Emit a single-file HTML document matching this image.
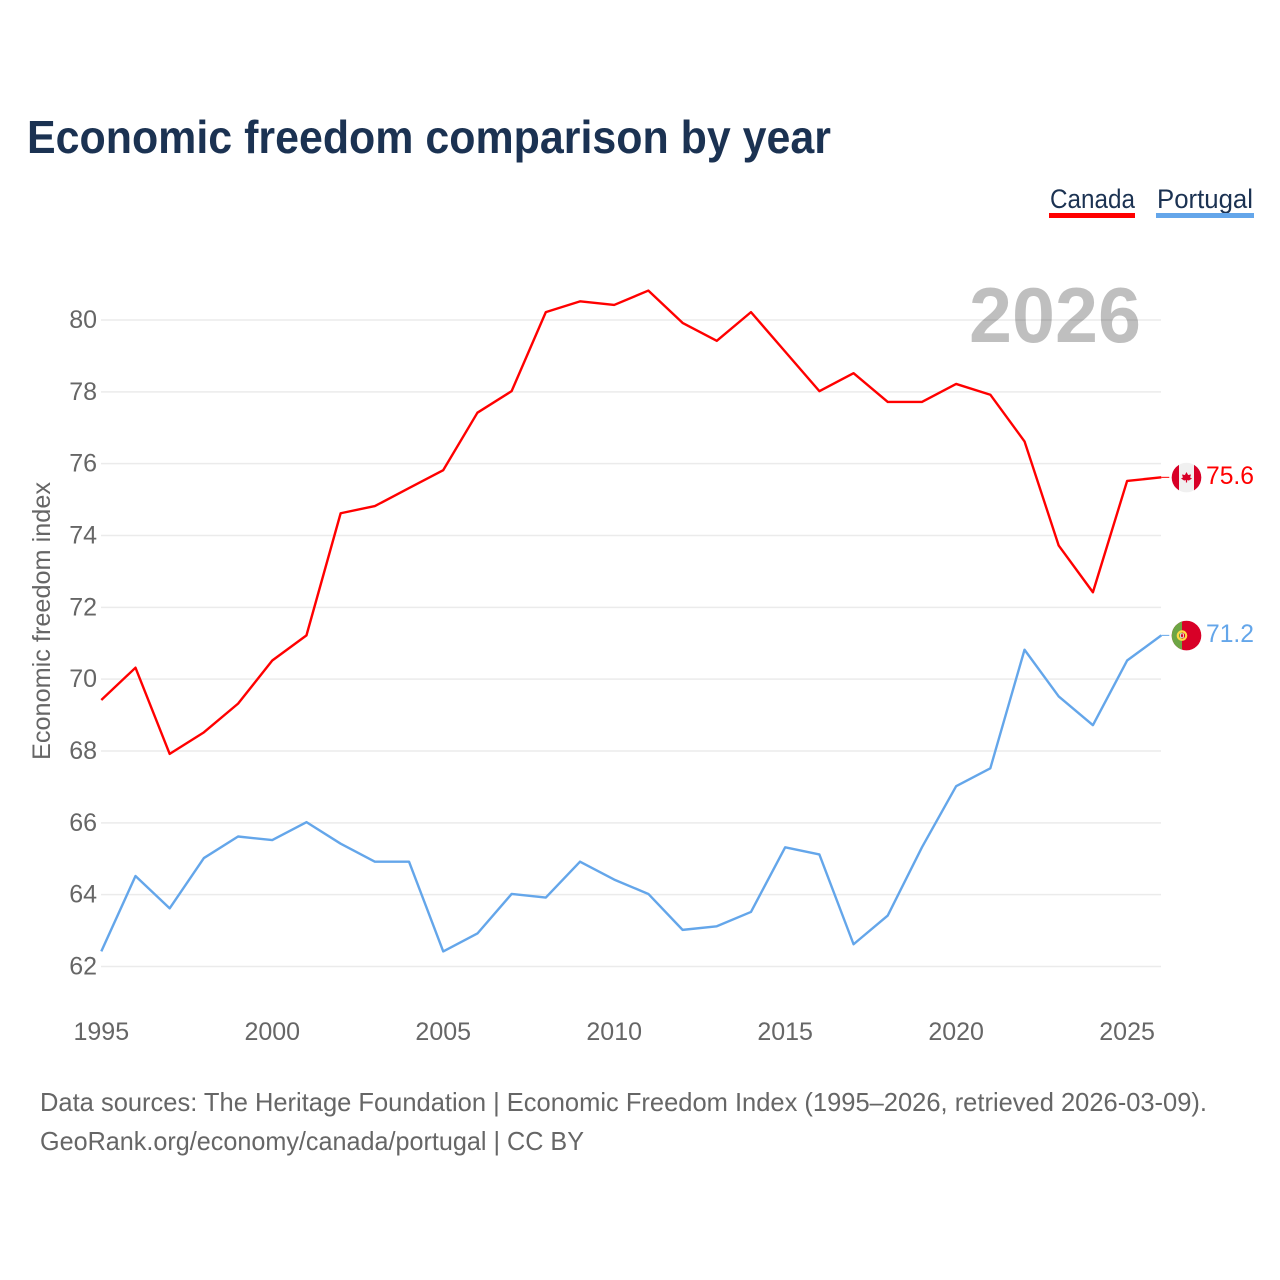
<!DOCTYPE html>
<html lang="en">
<head>
<meta charset="utf-8">
<title>Economic freedom comparison by year</title>
<style>
html,body{margin:0;padding:0;background:#fff;}
svg{display:block;font-family:"Liberation Sans",sans-serif;}
</style>
</head>
<body>
<svg id="chart" xmlns="http://www.w3.org/2000/svg" width="1280" height="1280" viewBox="0 0 1280 1280">
  <rect x="0" y="0" width="1280" height="1280" fill="#fff"/>
  <text x="27" y="153" font-size="46" font-weight="700" fill="#1b3252" textLength="804" lengthAdjust="spacingAndGlyphs">Economic freedom comparison by year</text>

  <g>
    <text x="1050" y="208" font-size="27" fill="#1b3252" textLength="85" lengthAdjust="spacingAndGlyphs">Canada</text>
    <rect x="1049" y="213" width="86" height="5" fill="#ff0000"/>
  </g>
  <g>
    <text x="1157" y="208" font-size="27" fill="#1b3252" textLength="96" lengthAdjust="spacingAndGlyphs">Portugal</text>
    <rect x="1156" y="213" width="98" height="5" fill="#64a6ea"/>
  </g>

  <g id="grid"></g>
  <g id="yticks"></g>
  <g id="xticks"></g>

  <text x="969" y="342" font-size="78" font-weight="700" fill="#000" fill-opacity="0.25" textLength="172" lengthAdjust="spacingAndGlyphs">2026</text>

  <text transform="translate(50 760) rotate(-90)" x="0" y="0" font-size="25" fill="#666" textLength="278" lengthAdjust="spacingAndGlyphs">Economic freedom index</text>

  <g id="series" transform="translate(-0.7 -0.7)"></g>

  <defs>
    <clipPath id="clip-ca"><circle cx="0" cy="0" r="14.8"/></clipPath>
    <clipPath id="clip-pt"><circle cx="0" cy="0" r="14.8"/></clipPath>
  </defs>

  <g id="flag-canada">
    <g clip-path="url(#clip-ca)">
      <rect x="-15" y="-15" width="30" height="30" fill="#f0f0f0"/>
      <rect x="-15" y="-15" width="7.5" height="30" fill="#d80027"/>
      <rect x="7.5" y="-15" width="7.5" height="30" fill="#d80027"/>
      <polygon points="0,-5.5 1.6,-2.5 4.5,-3 3.6,0 5.5,1 2.4,3 0.6,2.6 0.6,5 -0.6,5 -0.6,2.6 -2.4,3 -5.5,1 -3.6,0 -4.5,-3 -1.6,-2.5" fill="#d80027"/>
    </g>
  </g>
  <g id="flag-portugal">
    <g clip-path="url(#clip-pt)">
      <rect x="-15" y="-15" width="30" height="30" fill="#d80027"/>
      <rect x="-15" y="-15" width="10.5" height="30" fill="#6da544"/>
      <circle cx="-4.5" cy="0" r="4.2" fill="none" stroke="#ffda44" stroke-width="2.2"/>
      <rect x="-6" y="-1.7" width="3" height="3.4" fill="#d80027" stroke="#f0f0f0" stroke-width="0.8"/>
    </g>
  </g>

  <text id="value-canada" x="1206" y="483" font-size="25" fill="#ff0000" textLength="48" lengthAdjust="spacingAndGlyphs"></text>
  <text id="value-portugal" x="1206" y="641" font-size="25" fill="#64a6ea" textLength="48" lengthAdjust="spacingAndGlyphs"></text>

  <text x="40" y="1111" font-size="26" fill="#666" textLength="1167" lengthAdjust="spacingAndGlyphs">Data sources: The Heritage Foundation | Economic Freedom Index (1995–2026, retrieved 2026-03-09).</text>
  <text x="40" y="1150" font-size="26" fill="#666" textLength="544" lengthAdjust="spacingAndGlyphs">GeoRank.org/economy/canada/portugal | CC BY</text>
</svg>
<script>
const years = [1995,1996,1997,1998,1999,2000,2001,2002,2003,2004,2005,2006,2007,2008,2009,2010,2011,2012,2013,2014,2015,2016,2017,2018,2019,2020,2021,2022,2023,2024,2025,2026];
const canadaValues = [69.4,70.3,67.9,68.5,69.3,70.5,71.2,74.6,74.8,75.3,75.8,77.4,78.0,80.2,80.5,80.4,80.8,79.9,79.4,80.2,79.1,78.0,78.5,77.7,77.7,78.2,77.9,76.6,73.7,72.4,75.5,75.6];
const portugalValues = [62.4,64.5,63.6,65.0,65.6,65.5,66.0,65.4,64.9,64.9,62.4,62.9,64.0,63.9,64.9,64.4,64.0,63.0,63.1,63.5,65.3,65.1,62.6,63.4,65.3,67.0,67.5,70.8,69.5,68.7,70.5,71.2];
const yTickValues = [62,64,66,68,70,72,74,76,78,80];
const xTickValues = [1995,2000,2005,2010,2015,2020,2025];

const SVG_NS = 'http://www.w3.org/2000/svg';
function xScale(year) { return 102 + (year - 1995) * (1060 / 31); }
function yScale(value) { return 966.5 - (value - 62) * (646.5 / 18); }

const grid = document.getElementById('grid');
const yticks = document.getElementById('yticks');
const xticks = document.getElementById('xticks');
const series = document.getElementById('series');

yTickValues.forEach(function (v) {
  const line = document.createElementNS(SVG_NS, 'line');
  
  
  line.setAttribute('x1', 101);
  line.setAttribute('x2', 1161);
  line.setAttribute('y1', yScale(v));
  line.setAttribute('y2', yScale(v));
  line.setAttribute('stroke', '#ebebeb');
  line.setAttribute('stroke-width', 1.5);
  grid.appendChild(line);

  const label = document.createElementNS(SVG_NS, 'text');
  
  
  label.setAttribute('x', 97);
  label.setAttribute('y', yScale(v) + 8);
  label.setAttribute('text-anchor', 'end');
  label.setAttribute('font-size', 25);
  label.setAttribute('fill', '#666');
  label.textContent = v;
  yticks.appendChild(label);
});

xTickValues.forEach(function (year) {
  const label = document.createElementNS(SVG_NS, 'text');
  
  
  label.setAttribute('x', xScale(year) - 0.7);
  label.setAttribute('y', 1040);
  label.setAttribute('text-anchor', 'middle');
  label.setAttribute('font-size', 25);
  label.setAttribute('fill', '#666');
  label.textContent = year;
  xticks.appendChild(label);
});

function linePoints(values) {
  return values.map(function (v, i) {
    return xScale(years[i]).toFixed(2) + ',' + yScale(v).toFixed(2);
  }).join(' ');
}

const canadaLine = document.createElementNS(SVG_NS, 'polyline');


canadaLine.setAttribute('points', linePoints(canadaValues));
canadaLine.setAttribute('fill', 'none');
canadaLine.setAttribute('stroke', '#ff0000');
canadaLine.setAttribute('stroke-width', 2.4);
canadaLine.setAttribute('stroke-linejoin', 'round');
series.appendChild(canadaLine);

const portugalLine = document.createElementNS(SVG_NS, 'polyline');


portugalLine.setAttribute('points', linePoints(portugalValues));
portugalLine.setAttribute('fill', 'none');
portugalLine.setAttribute('stroke', '#64a6ea');
portugalLine.setAttribute('stroke-width', 2.4);
portugalLine.setAttribute('stroke-linejoin', 'round');
series.appendChild(portugalLine);

const canadaEnd = canadaValues[canadaValues.length - 1];
const portugalEnd = portugalValues[portugalValues.length - 1];

const canadaConnector = document.createElementNS(SVG_NS, 'line');


canadaConnector.setAttribute('x1', xScale(2026));
canadaConnector.setAttribute('x2', 1170);
canadaConnector.setAttribute('y1', yScale(canadaEnd));
canadaConnector.setAttribute('y2', yScale(canadaEnd));
canadaConnector.setAttribute('stroke', '#ff0000');
canadaConnector.setAttribute('stroke-width', 1);
series.appendChild(canadaConnector);

const portugalConnector = document.createElementNS(SVG_NS, 'line');


portugalConnector.setAttribute('x1', xScale(2026));
portugalConnector.setAttribute('x2', 1170);
portugalConnector.setAttribute('y1', yScale(portugalEnd));
portugalConnector.setAttribute('y2', yScale(portugalEnd));
portugalConnector.setAttribute('stroke', '#64a6ea');
portugalConnector.setAttribute('stroke-width', 1);
series.appendChild(portugalConnector);

document.getElementById('flag-canada').setAttribute('transform', 'translate(1186.5 ' + (yScale(canadaEnd) - 0.5).toFixed(2) + ')');
document.getElementById('flag-portugal').setAttribute('transform', 'translate(1186.5 ' + (yScale(portugalEnd) - 0.5).toFixed(2) + ')');

const valueCanada = document.getElementById('value-canada');
valueCanada.setAttribute('y', (yScale(canadaEnd) + 6).toFixed(2));
valueCanada.textContent = canadaEnd.toFixed(1);

const valuePortugal = document.getElementById('value-portugal');
valuePortugal.setAttribute('y', (yScale(portugalEnd) + 6).toFixed(2));
valuePortugal.textContent = portugalEnd.toFixed(1);
</script>
</body>
</html>
